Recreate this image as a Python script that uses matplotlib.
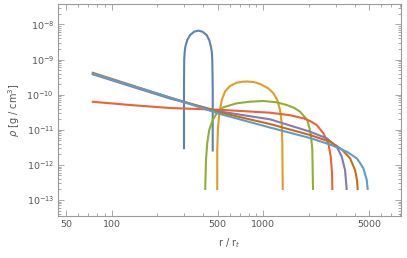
import matplotlib
matplotlib.use("Agg")
import matplotlib.pyplot as plt
from matplotlib.ticker import FixedLocator, FixedFormatter, LogLocator, NullFormatter

# ---- data ----
blue_r = [300, 300, 301, 303, 306, 315, 329, 349, 373, 398, 423, 440, 452, 458, 461, 464, 464]
blue_rho = [2.8e-12, 1.7e-10, 9.7e-10, 1.6e-9, 2.3e-9, 3.6e-9, 5.0e-9, 6.2e-9, 6.7e-9,
            6.2e-9, 5.0e-9, 3.6e-9, 2.3e-9, 1.6e-9, 9.7e-10, 1.7e-10, 2.4e-12]

orange_r = [497, 497, 503, 513, 532, 559, 603, 668, 730, 793, 870, 951, 1079, 1164, 1237, 1289, 1323, 1335, 1343]
orange_rho = [1.93e-13, 2.66e-12, 1.23e-11, 2.95e-11, 7.06e-11, 1.22e-10, 1.77e-10, 2.20e-10,
              2.34e-10, 2.38e-10, 2.28e-10, 2.02e-10, 1.52e-10, 1.10e-10, 7.06e-11, 3.66e-11,
              1.53e-11, 4.12e-12, 1.93e-13]

green_r = [414, 419, 427, 440, 464, 493, 545, 668, 817, 1000, 1226, 1427, 1600, 1746, 1951, 2054, 2105, 2128]
green_rho = [1.93e-13, 1.38e-12, 4.12e-12, 9.87e-12, 1.90e-11, 2.95e-11, 4.38e-11, 5.69e-11,
             6.32e-11, 6.62e-11, 6.07e-11, 5.09e-11, 4.20e-11, 3.28e-11, 1.90e-11, 7.95e-12,
             2.66e-12, 1.93e-13]

red_r = [74, 132, 242, 518, 1107, 1501, 1836, 2050, 2250, 2488, 2684, 2784, 2840, 2853]
red_rho = [6.32e-11, 5.09e-11, 4.18e-11, 3.71e-11, 3.07e-11, 2.60e-11, 2.13e-11, 1.75e-11,
           1.37e-11, 7.95e-12, 4.12e-12, 1.71e-12, 5.76e-13, 1.93e-13]

purple_r = [74, 242, 518, 1107, 2032, 2619, 3050, 3290, 3458, 3549]
purple_rho = [3.89e-10, 7.80e-11, 3.32e-11, 1.99e-11, 8.83e-12, 5.73e-12, 3.30e-12, 1.71e-12,
              7.16e-13, 1.93e-13]

brown_r = [74, 242, 518, 1107, 2032, 2754, 3290, 3732, 4027, 4145, 4196]
brown_rho = [4.29e-10, 8.32e-11, 3.11e-11, 1.46e-11, 7.11e-12, 4.58e-12, 2.78e-12, 1.54e-12,
             7.16e-13, 3.71e-13, 1.93e-13]

lblue_r = [74, 242, 518, 1107, 2032, 2754, 3549, 4131, 4345, 4567, 4810, 4883]
lblue_rho = [4.07e-10, 8.32e-11, 2.82e-11, 1.16e-11, 5.84e-12, 3.81e-12, 2.38e-12, 1.54e-12,
             1.13e-12, 8.0e-13, 3.71e-13, 1.93e-13]

x_ticks = [50, 100, 500, 1000, 5000]
x_ticklabels = ["50", "100", "500", "1000", "5000"]
y_ticks = [1e-13, 1e-12, 1e-11, 1e-10, 1e-9, 1e-8]
y_ticklabels = [r"$10^{-13}$", r"$10^{-12}$", r"$10^{-11}$", r"$10^{-10}$", r"$10^{-9}$", r"$10^{-8}$"]

series = [
    (blue_r, blue_rho, "#5E81B5"),
    (orange_r, orange_rho, "#E19C24"),
    (green_r, green_rho, "#8FB032"),
    (red_r, red_rho, "#EB6235"),
    (purple_r, purple_rho, "#8778B3"),
    (brown_r, brown_rho, "#C56E1A"),
    (lblue_r, lblue_rho, "#5D9EC7"),
]

fig = plt.figure(figsize=(4.07, 2.58), dpi=100)
ax = fig.add_axes([0.1432, 0.1628, 0.8421, 0.8205])

for r, rho, c in series:
    ax.plot(r, rho, color=c, lw=1.5, solid_capstyle="butt", solid_joinstyle="round")

ax.set_xscale("log")
ax.set_yscale("log")
ax.set_xlim(44.5, 8090)
ax.set_ylim(3.5e-14, 3.76e-8)

frame_c = "#9a9a9a"
text_c = "#555555"
for s in ax.spines.values():
    s.set_color(frame_c)
    s.set_linewidth(0.8)

ax.xaxis.set_major_locator(FixedLocator(x_ticks))
ax.xaxis.set_major_formatter(FixedFormatter(x_ticklabels))
ax.xaxis.set_minor_locator(LogLocator(base=10, subs=range(1, 10), numticks=20))
ax.xaxis.set_minor_formatter(NullFormatter())
ax.yaxis.set_major_locator(FixedLocator(y_ticks))
ax.yaxis.set_major_formatter(FixedFormatter(y_ticklabels))
ax.yaxis.set_minor_locator(LogLocator(base=10, subs=range(2, 10), numticks=20))
ax.yaxis.set_minor_formatter(NullFormatter())

ax.tick_params(which="both", direction="in", top=True, right=True, color=frame_c,
               labelsize=6.8, labelcolor=text_c, width=0.6)
ax.tick_params(which="major", length=4, pad=3)
ax.tick_params(which="minor", length=2)

ax.set_xlabel(r"r / r$_t$", fontsize=7, color=text_c, labelpad=5)
ax.set_ylabel(r"$\rho$ [g / cm$^3$]", fontsize=7, color=text_c, labelpad=3)

fig.savefig("out.png", dpi=100)
